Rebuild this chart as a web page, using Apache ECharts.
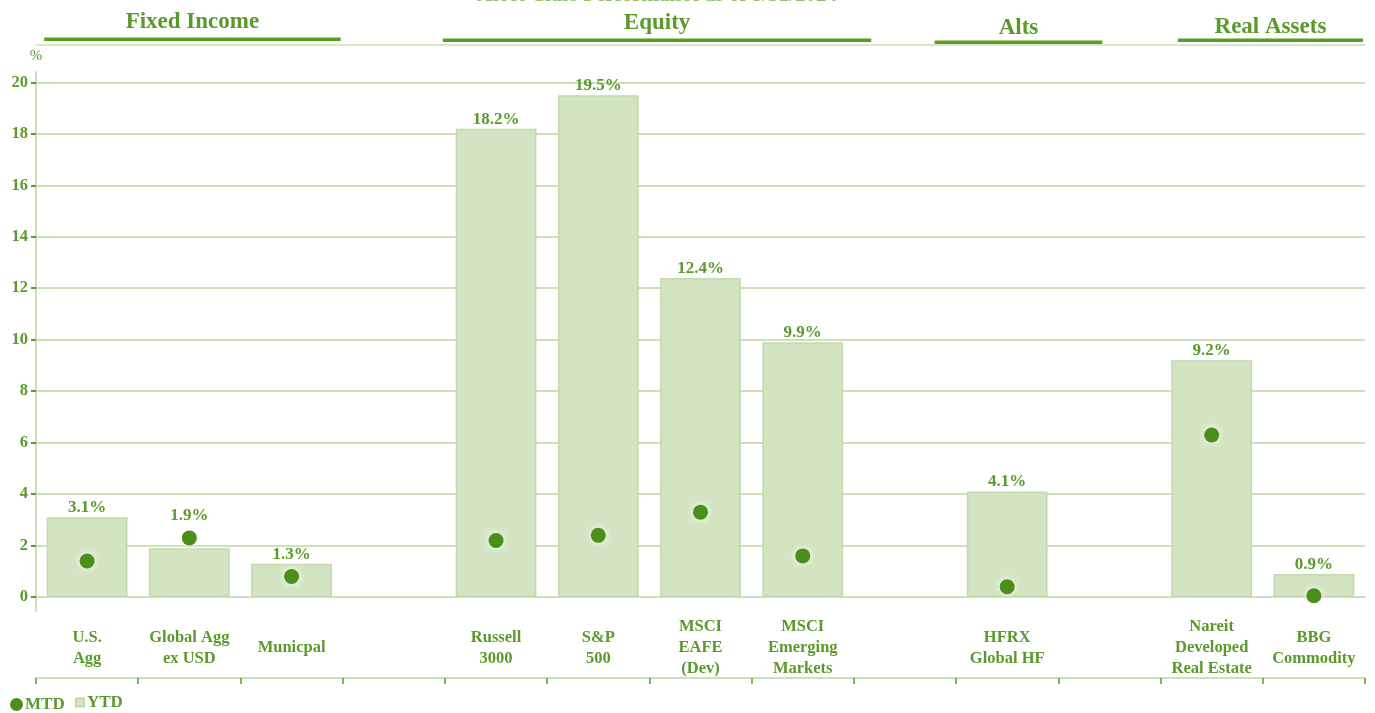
<!DOCTYPE html>
<html>
<head>
<meta charset="utf-8">
<script src="https://cdn.jsdelivr.net/npm/echarts@6/dist/echarts.min.js"></script>
<style>html,body{margin:0;padding:0;background:#fff}#c{width:1375px;height:713px}</style>
</head>
<body>
<div id="c"></div>
<script>
// ---- data ----
const categories = ['U.S.\nAgg', 'Global Agg\nex USD', 'Municpal', '', 'Russell\n3000', 'S&P\n500',
  'MSCI\nEAFE\n(Dev)', 'MSCI\nEmerging\nMarkets', '', 'HFRX\nGlobal HF', '', 'Nareit\nDeveloped\nReal Estate', 'BBG\nCommodity'];
const ytdValues = [3.1, 1.9, 1.3, '-', 18.2, 19.5, 12.4, 9.9, '-', 4.1, '-', 9.2, 0.9];
const mtdValues = [1.4, 2.3, 0.8, '-', 2.2, 2.4, 3.3, 1.6, '-', 0.4, '-', 6.3, 0.05];
const yTicks = [0, 2, 4, 6, 8, 10, 12, 14, 16, 18, 20];
const groupNames = ['Fixed Income', 'Equity', 'Alts', 'Real Assets'];
const groupFirst = [0, 4, 9, 11];
const groupLast = [2, 7, 9, 12];
const titleText = 'Asset Class Performance as of 8/31/2024';

// ---- styles ----
const GREEN = '#5a9a2a';
const DOT = '#4a8e1c';
const BAR = '#d3e4c2';
const BARB = '#c2d9ac';
const GRIDC = '#cde0ba';
const FONT = 'Liberation Serif';
// header underline extension (in category widths) [startPad, endPad]
const headerPad = [[0.08, -0.02], [-0.02, 0.17], [-0.21, 0.43], [0.17, -0.02]];
const headerTextY = [22, 23, 28, 27];
const headerLineY = [39, 40, 42, 40];

const chart = echarts.init(document.getElementById('c'));
const option = {
  animation: false,
  backgroundColor: '#fff',
  grid: { left: 36, right: 10, top: 72, bottom: 102 },
  legend: [
    { data: [{ name: 'MTD', icon: 'circle' }], left: 10, bottom: 0, padding: 0, itemWidth: 13, itemHeight: 13, itemGap: 4,
      textStyle: { color: GREEN, fontFamily: FONT, fontSize: 17, fontWeight: 'bold', padding: [0, 0, 0, -3] } },
    { data: [{ name: 'YTD', icon: 'rect' }], left: 75, bottom: 2, padding: 0, itemWidth: 8, itemHeight: 8, itemGap: 4,
      textStyle: { color: GREEN, fontFamily: FONT, fontSize: 17, fontWeight: 'bold', padding: [0, 0, 0, -2] } }
  ],
  xAxis: [
    { type: 'category', data: categories, position: 'bottom', offset: 0,
      axisLine: { show: true, lineStyle: { color: GRIDC, width: 2 } },
      axisTick: { show: false },
      axisLabel: { interval: 0, color: GREEN, fontFamily: FONT, fontSize: 16.5, fontWeight: 'bold',
        lineHeight: 21, verticalAlign: 'middle', margin: 37 } },
    { type: 'category', data: categories, position: 'bottom', offset: 67,
      axisLine: { show: true, lineStyle: { color: GRIDC, width: 2 } },
      axisTick: { show: true, length: 6, lineStyle: { color: GREEN, width: 1.5 } },
      axisLabel: { show: false } },
    { type: 'category', data: categories, position: 'top', offset: 27,
      axisLine: { show: true, lineStyle: { color: GRIDC, width: 1.5 } },
      axisTick: { show: false }, axisLabel: { show: false } }
  ],
  yAxis: {
    type: 'value', min: -0.54, max: 20.4,
    name: '%', nameLocation: 'end', nameGap: 8,
    nameTextStyle: { color: GREEN, fontFamily: FONT, fontSize: 15, align: 'center' },
    axisLine: { show: true, lineStyle: { color: GRIDC, width: 2 } },
    axisTick: { show: true, customValues: yTicks, length: 5, lineStyle: { color: GREEN, width: 2 } },
    axisLabel: { customValues: yTicks, color: GREEN, fontFamily: FONT, fontSize: 16.5, fontWeight: 'bold', margin: 8 },
    splitLine: { show: true, lineStyle: { color: GRIDC, width: 2 } }
  },
  series: [
    { name: 'YTD', type: 'bar', data: ytdValues, barWidth: '79%', xAxisIndex: 0,
      itemStyle: { color: BAR, borderColor: BARB, borderWidth: 1.5 },
      label: { show: true, position: 'top', distance: 1, color: GREEN, fontFamily: FONT, fontSize: 17, fontWeight: 'bold',
        formatter: p => (typeof p.value === 'number' ? p.value.toFixed(1) + '%' : '') },
      labelLayout: p => {
        const m = mtdValues[p.dataIndex], y = ytdValues[p.dataIndex];
        return (typeof m === 'number' && typeof y === 'number' && m > y) ? { dy: -23 } : {};
      } },
    { name: 'MTD', type: 'scatter', data: mtdValues, xAxisIndex: 0, symbolSize: 15, z: 5,
      itemStyle: { color: DOT, opacity: 1, shadowColor: 'rgba(255,255,255,1)', shadowBlur: 7 } }
  ]
};
chart.setOption(option);

// group headers from category positions
const c0 = chart.convertToPixel({ xAxisIndex: 0 }, 0);
const c1 = chart.convertToPixel({ xAxisIndex: 0 }, 1);
const band = c1 - c0;
const graphics = [];
groupNames.forEach((g, i) => {
  const x0 = chart.convertToPixel({ xAxisIndex: 0 }, groupFirst[i]) - band / 2 + headerPad[i][0] * band;
  const x1 = chart.convertToPixel({ xAxisIndex: 0 }, groupLast[i]) + band / 2 + headerPad[i][1] * band;
  graphics.push({ type: 'rect', shape: { x: x0, y: headerLineY[i] - 1.5, width: x1 - x0, height: 3.5 },
    style: { fill: '#5b9c23' }, silent: true });
  graphics.push({ type: 'text', x: (x0 + x1) / 2, y: headerTextY[i],
    style: { text: g, fill: GREEN, font: 'bold 23px "' + FONT + '"', align: 'center', verticalAlign: 'middle' }, silent: true });
});
graphics.push({ type: 'text', x: 657, y: 6,
  style: { text: titleText, fill: '#8fbf6a', font: 'bold 21px "' + FONT + '"', align: 'center', verticalAlign: 'bottom' }, silent: true });
chart.setOption({ graphic: graphics });
</script>
</body>
</html>
